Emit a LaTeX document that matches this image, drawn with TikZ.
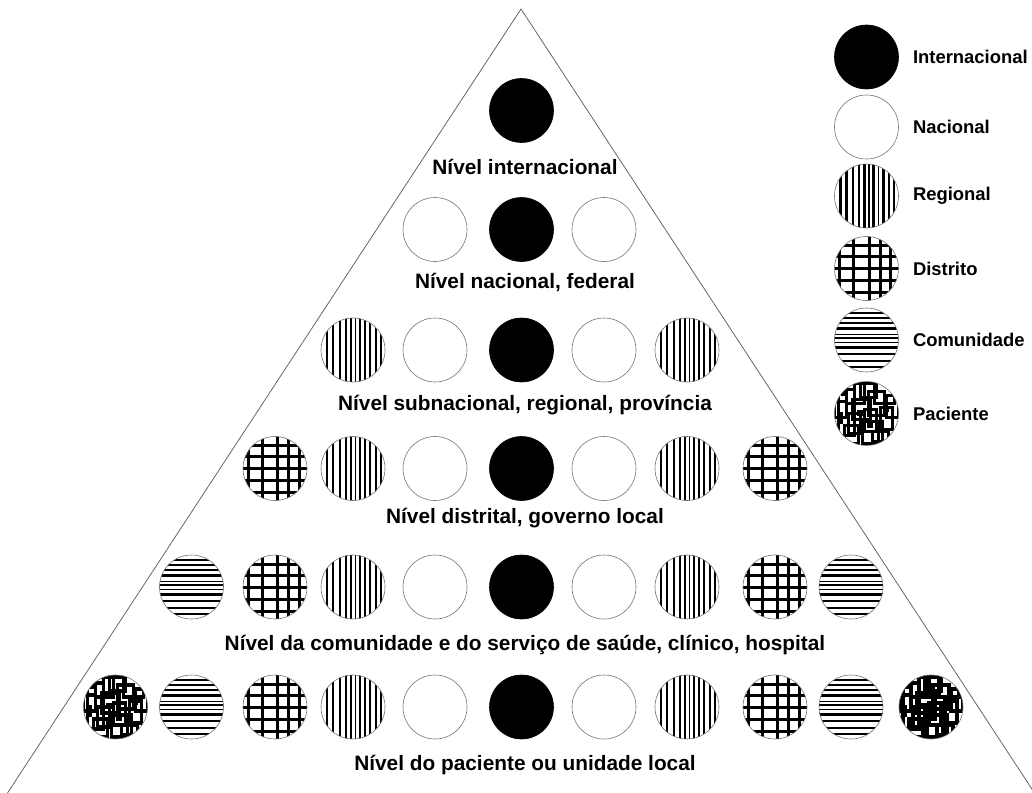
\documentclass[tikz,border=0pt]{standalone}
\usepackage{fontspec}
\setmainfont{Liberation Sans}
\usetikzlibrary{positioning}

\tikzset{
  disc/.style={circle,minimum size=64bp,inner sep=0pt,draw=black!55,line width=0.6bp},
  ink/.style={shift={(path picture bounding box.center)},x=1bp,y=1bp,draw=black,fill=black},
  % international, national
  lvl0/.style={disc,fill=black,draw=black},
  lvl1/.style={disc},
  % regional: vertical stripes
  lvl2/.style={disc,path picture={
    \begin{scope}[ink]
      \foreach \u/\w in {-26/2.4,-20/2.4,-13.5/2,-7.5/2,-2/2.2,2.5/1.6,7/2.2,12/1.6,17/2.2,22.5/2,27.5/2}
        \draw[line width=\w bp] (\u,-34) -- (\u,34);
    \end{scope}}},
  % district: grid
  lvl3/.style={disc,path picture={
    \begin{scope}[ink,line width=3bp]
      \foreach \u in {-27,-13,2.5,13.5,24}
        \draw (\u,-34) -- (\u,34);
      \foreach \u in {-24,-12,0,12,23}
        \draw (-34,\u) -- (34,\u);
    \end{scope}}},
  % community: horizontal stripes
  lvl4/.style={disc,path picture={
    \begin{scope}[ink]
      \foreach \u/\w in {-27/2,-21/2.4,-14/2.4,-7.5/2.4,-2.5/1.6,2/2.4,5.5/1.6,11.5/2.4,17/2,22/2.4,27.5/2}
        \draw[line width=\w bp] (-34,\u) -- (34,\u);
    \end{scope}}},
  % patient: scattered boxes
  lvl5/.style={disc,path picture={
    \begin{scope}[ink,line width=3.2bp]
      \draw (-28,-22) rectangle (-12,24);
      \draw (-20,10) rectangle (-2,30);
      \draw (-14,-6) rectangle (4,14);
      \draw (-6,16) rectangle (10,30);
      \draw (2,-2) rectangle (18,22);
      \draw (8,10) rectangle (28,32);
      \draw (14,-16) rectangle (26,6);
      \draw (-4,-30) rectangle (12,-8);
      \draw (-22,-30) rectangle (-8,-12);
      \draw (6,-28) rectangle (22,-18);
      \draw (20,-4) rectangle (32,18);
      \draw (-32,-4) rectangle (-20,12);
      \draw (-18,-20) rectangle (-6,0);
      \draw (-2,-18) rectangle (10,4);
      \draw (-12,18) -- (-12,34);
      \draw (16,-30) -- (16,-6);
      \fill (-10,-2) rectangle (-4,4);
      \fill (16,2) rectangle (22,8);
      \fill (-26,18) rectangle (-20,24);
      \fill (0,-14) rectangle (6,-8);
      \fill (-30,-10) rectangle (-24,2);
    \end{scope}}},
  lvltext/.style={font=\fontsize{20.9}{25}\selectfont\bfseries,inner sep=0pt},
  legtext/.style={font=\fontsize{18.5}{22}\selectfont\bfseries,inner sep=0pt},
}

\begin{document}
\begin{tikzpicture}[x=1bp,y=-1bp]
    \clip (0,0) rectangle (1032,793);
    \useasboundingbox (0,0) rectangle (1032,793);

    % pyramid
    \draw[black!60,line width=0.8bp] (-20,835) -- (521,9) -- (1062,835);

    % discs, row by row
    \foreach \r/\y in {1/110.5,2/229.5,3/350,4/468.5,5/587,6/707} {
      \pgfmathtruncatemacro{\n}{\r-1}
      \foreach \c in {-\n,...,\n} {
        \pgfmathtruncatemacro{\a}{abs(\c)}
        \pgfmathsetmacro{\px}{{115.5,191.5,275,353,435,521.5,604,687,775,851,931}[\c+5]}
        \node[lvl\a] (r\r-\a\ifnum\c<0 l\else r\fi) at (\px,\y) {};
      }
    }

    % level names
    \node[lvltext] (lab1) at (525,167) {Nível internacional};
    \node[lvltext] (lab2) at (525,282) {Nível nacional, federal};
    \node[lvltext] (lab3) at (525,405) {Nível subnacional, regional, província};
    \node[lvltext] (lab4) at (525,518) {Nível distrital, governo local};
    \node[lvltext] (lab5) at (525,645) {Nível da comunidade e do serviço de saúde, clínico, hospital};
    \node[lvltext] (lab6) at (525,765) {Nível do paciente ou unidade local};

    % legend
    \node[lvl0] (leg0) at (866.5,57) {};
    \node[lvl1] (leg1) at (866.5,127) {};
    \node[lvl2] (leg2) at (866.5,196) {};
    \node[lvl3] (leg3) at (866.5,268.5) {};
    \node[lvl4] (leg4) at (866.5,340) {};
    \node[lvl5] (leg5) at (866.5,413.5) {};
    \node[legtext,right=14bp of leg0] (key0) {Internacional};
    \node[legtext,right=14bp of leg1] (key1) {Nacional};
    \node[legtext,right=14bp of leg2] (key2) {Regional};
    \node[legtext,right=14bp of leg3] (key3) {Distrito};
    \node[legtext,right=14bp of leg4] (key4) {Comunidade};
    \node[legtext,right=14bp of leg5] (key5) {Paciente};
\end{tikzpicture}
\end{document}
